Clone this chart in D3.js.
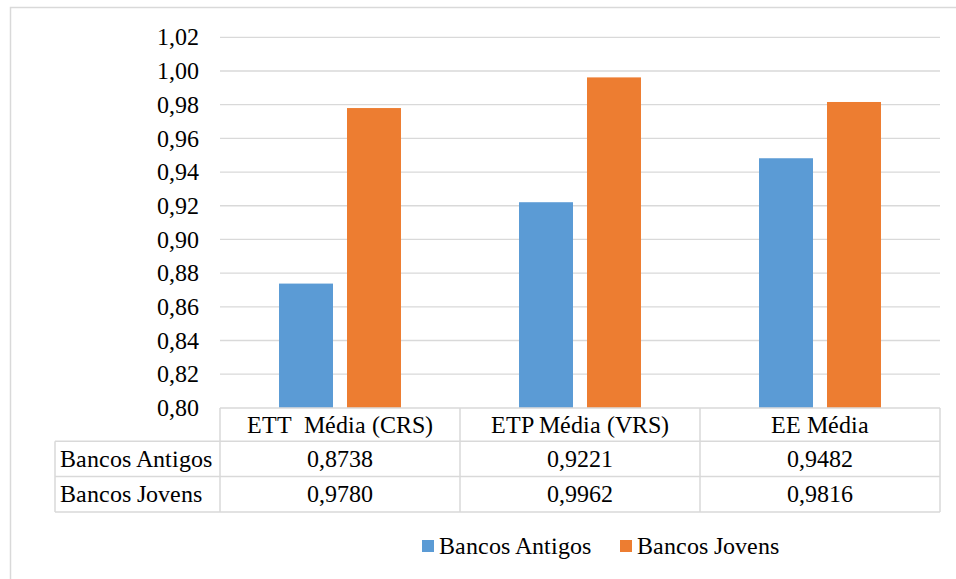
<!DOCTYPE html>
<html>
<head>
<meta charset="utf-8">
<script src="https://cdn.jsdelivr.net/npm/d3@7"></script>
<style>
  @font-face {
    font-family: "ChartSerif";
    src: local("Liberation Serif"), local("LiberationSerif-Regular"), local("Times New Roman"), local("Tinos");
  }
  html, body { margin: 0; padding: 0; background: #fff; }
  svg { display: block; }
  svg text { font-family: "ChartSerif", "Liberation Serif", "Times New Roman", Times; }
</style>
</head>
<body>
<svg id="fig" width="956" height="579"></svg>
<script>
// Average efficiency scores by bank group
const categories = ["ETT  Média (CRS)", "ETP Média (VRS)", "EE Média"];
const seriesNames = ["Bancos Antigos", "Bancos Jovens"];
const bancosAntigos = [0.8738, 0.9221, 0.9482];
const bancosJovens = [0.9780, 0.9962, 0.9816];
const yTicks = [0.80, 0.82, 0.84, 0.86, 0.88, 0.90, 0.92, 0.94, 0.96, 0.98, 1.00, 1.02];
const colors = ["#5B9BD5", "#ED7D31"];

const series = [bancosAntigos, bancosJovens];
const fmtTick = v => d3.format(".2f")(v).replace(".", ",");
const fmtVal = v => d3.format(".4f")(v).replace(".", ",");

const FONT = '"ChartSerif", "Liberation Serif", "Times New Roman", Times';
const fontSize = 24;
const gridColor = "#d9d9d9";

// serif face and size on each text node
const styleText = sel => sel
  .attr("font-family", FONT)
  .attr("font-size", fontSize)
  .style("font-family", FONT)
  .style("white-space", "pre")
  .attr("fill", "#000");

const svg = d3.select("#fig");

// chart frame (runs past the right and bottom edges)
svg.append("rect")
  .attr("x", 10.5).attr("y", 7.5)
  .attr("width", 1000).attr("height", 700)
  .attr("fill", "none").attr("stroke", gridColor).attr("stroke-width", 1.5);

const plot = { left: 220, right: 940, top: 37.3, bottom: 407.9 };

const y = d3.scaleLinear().domain([0.80, 1.02]).range([plot.bottom, plot.top]);
const x0 = d3.scaleBand().domain(categories).range([plot.left, plot.right]);
const x1 = d3.scaleBand().domain(seriesNames).range([0, x0.bandwidth()])
  .paddingInner(0.206).paddingOuter(0.868);

// horizontal gridlines
svg.append("g").selectAll("line")
  .data(yTicks.filter(t => t > 0.80))
  .join("line")
  .attr("x1", plot.left).attr("x2", plot.right)
  .attr("y1", d => y(d)).attr("y2", d => y(d))
  .attr("stroke", gridColor).attr("stroke-width", 1.3);

// y axis labels
const yAxis = d3.axisLeft(y).tickValues(yTicks).tickFormat(fmtTick).tickSize(0).tickPadding(21);
const gy = svg.append("g").attr("transform", `translate(${plot.left},0)`).call(yAxis);
gy.attr("font-family", FONT).attr("font-size", fontSize);
gy.select(".domain").remove();
gy.selectAll(".tick line").remove();
gy.selectAll("text").call(styleText);

// bars
const groups = svg.append("g").selectAll("g")
  .data(categories)
  .join("g")
  .attr("transform", d => `translate(${x0(d)},0)`);

groups.selectAll("rect")
  .data((c, i) => seriesNames.map((s, j) => ({ s, v: series[j][i], j })))
  .join("rect")
  .attr("x", d => x1(d.s))
  .attr("width", x1.bandwidth())
  .attr("y", d => y(d.v))
  .attr("height", d => plot.bottom - y(d.v))
  .attr("fill", d => colors[d.j]);

// data table under the plot
const rowTop = plot.bottom;
const rowH = [33.3, 35.3, 35.5];
const rowY = [rowTop, rowTop + rowH[0], rowTop + rowH[0] + rowH[1], rowTop + rowH[0] + rowH[1] + rowH[2]];
const labelLeft = 55;
const tbl = svg.append("g").attr("stroke", gridColor).attr("stroke-width", 1.5);

// horizontal table lines
tbl.append("line").attr("x1", plot.left).attr("x2", plot.right).attr("y1", rowY[0]).attr("y2", rowY[0]);
[1, 2, 3].forEach(k => {
  tbl.append("line").attr("x1", labelLeft).attr("x2", plot.right).attr("y1", rowY[k]).attr("y2", rowY[k]);
});
// vertical table lines
tbl.append("line").attr("x1", labelLeft).attr("x2", labelLeft).attr("y1", rowY[1]).attr("y2", rowY[3]);
categories.forEach(c => {
  tbl.append("line").attr("x1", x0(c)).attr("x2", x0(c)).attr("y1", rowY[0]).attr("y2", rowY[3]);
});
tbl.append("line").attr("x1", plot.right).attr("x2", plot.right).attr("y1", rowY[0]).attr("y2", rowY[3]);

// header row: category names
svg.selectAll("text.cat")
  .data(categories)
  .join("text").attr("class", "cat")
  .attr("x", d => x0(d) + x0.bandwidth() / 2)
  .attr("y", (rowY[0] + rowY[1]) / 2)
  .attr("text-anchor", "middle").attr("dominant-baseline", "central")
  .text(d => d)
  .call(styleText);

// series rows
seriesNames.forEach((s, j) => {
  const cy = (rowY[j + 1] + rowY[j + 2]) / 2;
  svg.append("text")
    .attr("x", 60).attr("y", cy)
    .attr("dominant-baseline", "central")
    .text(s)
    .call(styleText);
  series[j].forEach((v, i) => {
    svg.append("text")
      .attr("x", x0(categories[i]) + x0.bandwidth() / 2)
      .attr("y", cy)
      .attr("text-anchor", "middle").attr("dominant-baseline", "central")
      .text(fmtVal(v))
      .call(styleText);
  });
});

// legend
const legendX = [422, 620];
seriesNames.forEach((s, j) => {
  svg.append("rect").attr("x", legendX[j]).attr("y", 540).attr("width", 12).attr("height", 12).attr("fill", colors[j]);
  svg.append("text").attr("x", legendX[j] + 17).attr("y", 546)
    .attr("dominant-baseline", "central")
    .text(s)
    .call(styleText);
});
</script>
</body>
</html>
